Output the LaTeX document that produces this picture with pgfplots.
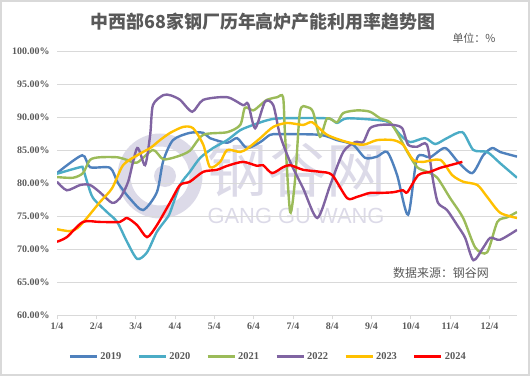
\documentclass[border=0pt]{standalone}
\usepackage{pgfplots}
\pgfplotsset{compat=1.18}
\usepackage{fontspec}
\setmainfont{Liberation Serif}
\newfontfamily\cjk{Noto Sans CJK SC}
\newfontfamily\wsans{Liberation Sans}
\definecolor{txt}{HTML}{595959}
\definecolor{grd}{HTML}{D9D9D9}
\definecolor{wm}{RGB}{220,218,232}
\definecolor{c19}{HTML}{4F81BD}
\definecolor{c20}{HTML}{4BACC6}
\definecolor{c21}{HTML}{9BBB59}
\definecolor{c22}{HTML}{8064A2}
\definecolor{c23}{HTML}{FFC000}
\definecolor{c24}{HTML}{FF0000}
\begin{document}
\begin{tikzpicture}[x=1bp,y=1bp]
\path[use as bounding box] (0,0) rectangle (532,376);
\draw[grd, line width=1.5bp] (1,1) rectangle (529,375);
% watermark
\draw[wm, line width=13bp] (160,200) circle (36);
\fill[wm] (165,200) circle (11);
\node[wm, font=\cjk\fontsize{60}{60}\selectfont] at (297,206) {钢谷网};
\node[wm, font=\wsans\fontsize{22}{22}\selectfont] at (296,160) {GANG GU WANG};
% titles
\node[txt, font=\cjk\bfseries\fontsize{18}{18}\selectfont] at (263,354) {中西部68家钢厂历年高炉产能利用率趋势图};
\node[txt, font=\cjk\fontsize{11}{11}\selectfont] at (474,338) {单位：\%};
\begin{axis}[
  at={(57bp,61bp)}, anchor=south west,
  scale only axis, width=460bp, height=264bp,
  xmin=0, xmax=11.7, ymin=60, ymax=100,
  ytick={60,65,...,100},
  xtick={0,1,...,11},
  xticklabels={1/4,2/4,3/4,4/4,5/4,6/4,7/4,8/4,9/4,10/4,11/4,12/4},
  yticklabel={\pgfmathprintnumber[fixed,fixed zerofill,precision=2]{\tick}\%},
  /pgf/number format/assume math mode=true,
  ticklabel style={font=\bfseries\fontsize{10}{10}\selectfont, text=txt},
  ymajorgrids, major grid style={grd, line width=0.8bp},
  axis x line*=bottom, axis y line*=left,
  x axis line style={grd, line width=0.8bp, -},
  y axis line style={draw=none},
  ytick style={draw=none},
  xtick style={grd, line width=0.8bp},
  tick align=outside, major tick length=4bp,
  legend style={at={(0.459,-0.159)}, anchor=center, draw=none, fill=none,
    legend columns=6, font=\bfseries\fontsize{10.5}{10.5}\selectfont, text=txt,
    /tikz/every even column/.append style={column sep=14bp}},
  legend image code/.code={\draw[#1, line width=3bp] (0,0) -- (27bp,0);},
  every axis plot/.append style={line width=2.4bp, smooth, tension=0.45},
]
\addplot[c19] coordinates {(0,81.5)(0.64,84.2)(0.84,82.4)(1.35,82.3)(1.55,80.0)(1.86,77.6)(2.19,75.9)(2.54,78.6)(2.70,83.3)(2.95,86.5)(3.38,87.6)(3.72,87.6)(3.89,86.8)(4.33,86.1)(4.58,86.8)(4.83,85.3)(5.17,86.2)(5.42,87.3)(5.67,87.4)(6.69,87.3)(7.12,86.5)(7.53,85.8)(7.84,83.8)(8.14,84.0)(8.40,84.7)(8.65,81.2)(8.93,75.2)(9.16,83.8)(9.49,83.9)(9.87,85.3)(10.20,83.2)(10.56,81.5)(10.84,84.2)(11.07,85.3)(11.27,84.7)(11.70,84.0)};
\addlegendentry{2019}
\addplot[c20] coordinates {(0,81.4)(0.59,82.4)(0.66,82.2)(0.79,79.7)(0.92,77.7)(1.27,75.6)(1.53,74.1)(1.78,71.1)(2.04,68.5)(2.29,69.5)(2.54,72.6)(2.80,74.7)(2.88,75.6)(3.13,79.7)(3.38,81.7)(3.64,83.8)(3.97,85.3)(4.33,86.5)(4.66,88.0)(4.99,88.8)(5.34,89.5)(5.67,89.8)(6.87,89.8)(7.12,89.1)(7.38,89.8)(8.22,89.5)(8.47,89.1)(8.73,87.3)(8.98,86.2)(9.36,86.8)(9.62,85.9)(9.92,86.8)(10.31,87.7)(10.59,85.0)(10.94,84.7)(11.27,83.0)(11.70,80.8)};
\addlegendentry{2020}
\addplot[c21] coordinates {(0,80.9)(0.41,80.8)(0.66,81.5)(0.84,83.5)(1.09,83.9)(1.53,83.9)(1.78,83.5)(2.04,83.1)(2.44,85.0)(2.70,83.6)(3.05,84.0)(3.38,84.9)(3.72,87.3)(4.33,87.7)(4.66,88.8)(4.78,91.4)(4.99,91.0)(5.17,91.8)(5.34,92.6)(5.60,93.0)(5.75,93.0)(5.80,87.3)(5.93,75.6)(6.06,80.8)(6.18,90.8)(6.36,91.5)(6.51,90.8)(6.69,87.0)(6.87,89.8)(7.12,89.2)(7.28,90.6)(7.63,91.0)(7.96,90.8)(8.22,89.8)(8.47,89.2)(8.68,87.3)(8.91,84.7)(9.16,82.4)(9.41,81.7)(9.67,80.8)(10.00,77.7)(10.33,74.7)(10.64,70.2)(10.94,69.5)(11.20,74.1)(11.45,74.8)(11.70,75.6)};
\addlegendentry{2021}
\addplot[c22] coordinates {(0,80.2)(0.25,78.9)(0.59,79.7)(0.84,79.7)(1.09,78.6)(1.40,77.0)(1.60,77.7)(1.81,80.2)(2.04,85.3)(2.24,82.7)(2.37,87.3)(2.44,91.8)(2.70,93.3)(2.88,93.3)(3.13,92.6)(3.44,90.8)(3.72,92.6)(4.33,93.0)(4.73,91.8)(4.86,92.0)(5.04,88.3)(5.29,92.3)(5.50,91.8)(5.67,87.3)(5.93,83.2)(6.26,79.2)(6.62,74.7)(6.95,79.7)(7.28,84.7)(7.58,86.2)(7.79,86.2)(7.96,88.3)(8.22,88.8)(8.55,88.8)(8.78,88.3)(8.93,85.8)(9.16,85.5)(9.41,85.8)(9.57,80.2)(9.69,77.0)(9.92,75.9)(10.18,73.6)(10.38,71.7)(10.59,68.3)(10.84,70.2)(11.02,71.7)(11.27,71.4)(11.70,72.9)};
\addlegendentry{2022}
\addplot[c23] coordinates {(0,73.0)(0.33,72.7)(0.53,73.2)(0.76,74.7)(1.09,77.1)(1.40,79.2)(1.68,82.7)(2.04,84.2)(2.37,85.3)(2.62,86.5)(2.88,87.6)(3.21,88.5)(3.46,88.3)(3.72,85.8)(3.89,82.4)(4.15,83.2)(4.33,85.0)(4.66,84.7)(4.86,85.3)(5.17,86.8)(5.50,88.5)(5.85,89.1)(6.26,88.8)(6.49,89.2)(6.87,87.3)(7.38,86.2)(7.79,85.8)(8.14,86.5)(8.55,86.5)(8.80,85.8)(9.06,83.5)(9.31,83.2)(9.75,83.5)(10.05,81.2)(10.33,80.2)(10.69,79.7)(10.94,77.9)(11.27,75.5)(11.70,74.7)};
\addlegendentry{2023}
\addplot[c24] coordinates {(0,71.1)(0.25,71.8)(0.66,74.1)(1.09,74.1)(1.60,74.1)(1.78,74.7)(2.04,73.6)(2.29,71.8)(2.54,73.6)(2.88,77.1)(3.13,79.7)(3.38,80.2)(3.72,81.7)(4.07,82.0)(4.33,82.6)(4.73,83.2)(5.09,82.6)(5.24,82.7)(5.47,81.5)(5.75,82.4)(5.93,82.7)(6.26,82.0)(6.69,81.7)(7.00,81.2)(7.38,77.7)(7.63,77.9)(7.96,78.5)(8.22,78.5)(8.55,78.6)(8.80,78.9)(8.91,78.6)(9.19,81.2)(9.49,81.7)(9.75,82.3)(10.00,82.7)(10.31,83.2)};
\addlegendentry{2024}
\end{axis}
\node[txt, font=\cjk\fontsize{12}{12}\selectfont] at (441,103) {数据来源：钢谷网};
\end{tikzpicture}
\end{document}
